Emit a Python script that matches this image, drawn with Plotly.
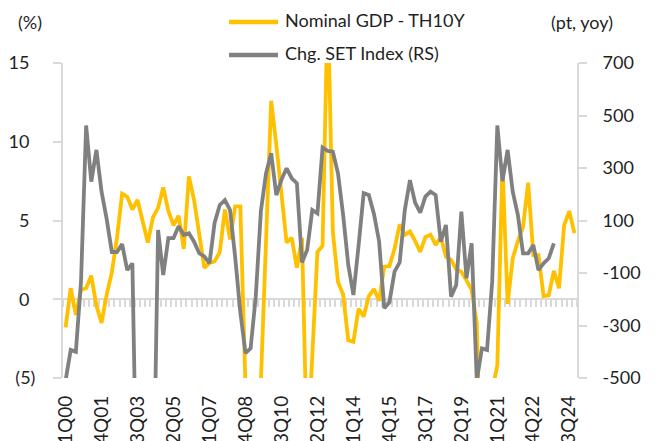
import plotly.graph_objects as go

# ---- data ----
YEARS = list(range(2000, 2025))
QUARTERS = [f"{q}Q{y % 100:02d}" for y in YEARS for q in (1, 2, 3, 4)]

TICK_LABELS = ["1Q00", "4Q01", "3Q03", "2Q05", "1Q07", "4Q08", "3Q10", "2Q12",
               "1Q14", "4Q15", "3Q17", "2Q19", "1Q21", "4Q22", "3Q24"]

NOMINAL_GDP_TH10Y = [
    -1.8, 0.7, -1.0, 0.6, 0.7, 1.5, -0.4, -1.5, 0.3, 1.7,
    3.9, 6.7, 6.5, 5.7, 6.3, 4.9, 3.6, 5.2, 5.8, 7.1,
    5.6, 4.7, 5.3, 3.2, 7.8, 6.3, 4.1, 2.0, 2.3, 2.4,
    3.0, 5.7, 3.8, 5.9, 5.9, -5.5, -10.0, -10.0, -5.2, 3.8,
    12.6, 9.8, 6.8, 3.6, 3.9, 2.0, 3.9, -10.0, -3.6, 3.0,
    3.4, 19.0, 4.3, 1.1, 0.3, -2.6, -2.7, -0.6, -1.1, 0.2,
    0.65, -0.1, 2.07, 2.1, 3.2, 4.75, 4.1, 4.3, 3.7, 3.0,
    3.95, 4.1, 3.45, 3.95, 2.7, 2.5, 1.9, 1.75, 1.2, 0.6,
    -1.5, -14.5, -9.0, -5.8, -4.2, 8.6, -0.3, 2.6, 3.7, 4.6,
    7.4, 2.8, 2.8, 0.2, 0.25, 1.8, 0.7, 4.7, 5.6, 4.2,
]

CHG_SET_INDEX = [
    -510, -393, -400, -135, 462, 248, 369, 210, 105, -20,
    -20, 10, -89, -63, -1150, -1150, -1150, -1070, 64, -108,
    33, 33, 78, 45, 51, 19, -25, -37, -63, 92,
    159, 178, 140, -40, -250, -405, -387, -190, 136, 280,
    356, 197, 255, 299, 261, 242, -60, -12, 140, 127,
    378, 365, 362, 280, 121, -69, -184, 4, 204, 197,
    125, 20, -234, -212, -95, -60, 140, 254, 168, 130,
    191, 210, 197, 19, 83, -190, -146, 134, -120, 13,
    -510, -387, -393, -133, 462, 250, 369, 210, 121, -25,
    -25, 7, -89, -63, -44, 13, None, None, None, None,
]

LEFT_TICKS = [-5, 0, 5, 10, 15]
LEFT_TICK_TEXT = ["(5)", "0\u2004", "5\u2004", "10\u2004", "15\u2004"]
RIGHT_TICKS = [-500, -300, -100, 100, 300, 500, 700]
RIGHT_TICK_TEXT = ["-500", "-300", "-100", "100", "300", "500", "700"]

SERIES_NAMES = ["Nominal GDP - TH10Y", "Chg. SET Index (RS)"]
YELLOW = "#FFC000"
GREY = "#808080"
AXIS_GREY = "#D9D9D9"
TEXT = "#1F1F1F"
FONT = "Lato"
FS = 18

fig = go.Figure()

fig.add_trace(go.Scatter(
    x=QUARTERS, y=NOMINAL_GDP_TH10Y, mode="lines", name=SERIES_NAMES[0],
    line=dict(color=YELLOW, width=3.8), xaxis="x", yaxis="y", showlegend=False,
))
fig.add_trace(go.Scatter(
    x=QUARTERS, y=CHG_SET_INDEX, mode="lines", name=SERIES_NAMES[1],
    line=dict(color=GREY, width=3.8), xaxis="x", yaxis="y2", showlegend=False,
    connectgaps=False,
))
# carrier for the zero-line axis with quarterly tick marks
fig.add_trace(go.Scatter(
    x=QUARTERS, y=[None] * len(QUARTERS), mode="lines", xaxis="x2", yaxis="y",
    showlegend=False, hoverinfo="skip",
))

# the page body adds an 8px offset, so margins are reduced by 8px on top/left
fig.update_layout(
    width=657, height=441,
    margin=dict(l=55, r=88, t=55, b=71, autoexpand=False),
    paper_bgcolor="white", plot_bgcolor="white",
    font=dict(family=FONT, size=FS, color=TEXT),
    showlegend=False,
    xaxis=dict(
        type="category", categoryorder="array", categoryarray=QUARTERS,
        range=[-0.5, len(QUARTERS) - 0.5], automargin=False,
        tickmode="array", tickvals=TICK_LABELS, ticktext=TICK_LABELS,
        tickangle=-90, showline=False, ticks="", showgrid=False, zeroline=False,
        ticklabelstandoff=13, tickfont=dict(family=FONT, size=19, color=TEXT),
    ),
    xaxis2=dict(
        type="category", categoryorder="array", categoryarray=QUARTERS,
        range=[-0.5, len(QUARTERS) - 0.5], automargin=False,
        overlaying="x", anchor="free", position=0.25, side="bottom",
        showline=True, linecolor=AXIS_GREY, linewidth=2,
        ticks="outside", tickson="boundaries", dtick=1, ticklen=7, tickwidth=2,
        tickcolor=AXIS_GREY, showticklabels=False, showgrid=False, zeroline=False,
        layer="below traces",
    ),
    yaxis=dict(
        range=[-5, 15], tickmode="array", tickvals=LEFT_TICKS, ticktext=LEFT_TICK_TEXT,
        automargin=False,
        showline=True, linecolor=AXIS_GREY, linewidth=2, ticks="outside",
        ticklen=8, tickwidth=2, tickcolor=AXIS_GREY, showgrid=False, zeroline=False,
        ticklabelstandoff=14, layer="below traces",
    ),
    yaxis2=dict(
        range=[-500, 700], tickmode="array", tickvals=RIGHT_TICKS, ticktext=RIGHT_TICK_TEXT,
        overlaying="y", side="right", anchor="x", automargin=False,
        showline=True, linecolor=AXIS_GREY, linewidth=2, ticks="outside",
        ticklen=8, tickwidth=2, tickcolor=AXIS_GREY, showgrid=False, zeroline=False,
        ticklabelstandoff=12, layer="below traces",
    ),
)

# manual legend
legend_rows = [(SERIES_NAMES[0], YELLOW, 1.1302, 1.1378),
               (SERIES_NAMES[1], GREY, 1.0254, 1.0330)]
for name, color, ly, ty in legend_rows:
    fig.add_shape(type="line", xref="paper", yref="paper", x0=0.323, x1=0.4183,
                  y0=ly, y1=ly, line=dict(color=color, width=4.5))
    fig.add_annotation(text=name, xref="paper", yref="paper", x=0.428, y=ty,
                       xanchor="left", yanchor="middle", showarrow=False,
                       font=dict(family=FONT, size=FS, color=TEXT))

# axis unit labels
fig.add_annotation(text="(%)", xref="paper", yref="paper", x=-0.0642, y=1.130,
                   xanchor="center", yanchor="middle", showarrow=False,
                   font=dict(family=FONT, size=FS, color=TEXT))
fig.add_annotation(text="(pt, yoy)", xref="paper", yref="paper", x=1.0107, y=1.130,
                   xanchor="center", yanchor="middle", showarrow=False,
                   font=dict(family=FONT, size=FS, color=TEXT))

fig.write_html("out.html")
